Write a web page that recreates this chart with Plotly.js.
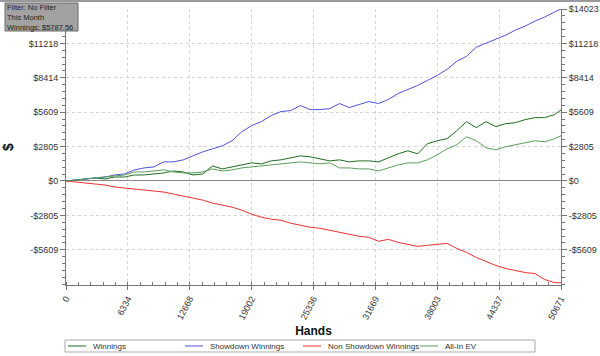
<!DOCTYPE html>
<html>
<head>
<meta charset="utf-8">
<script src="https://cdn.plot.ly/plotly-3.0.1.min.js"></script>
<style>html,body{margin:0;padding:0;background:#fff;}#chart{width:600px;height:356px;}</style>
</head>
<body>
<div id="chart"></div>
<script>
const hands = [0,1000,2000,3000,4000,5000,6000,7000,8000,9000,10000,11000,12000,13000,14000,15000,16000,17000,18000,19000,20000,21000,22000,23000,24000,25000,26000,27000,28000,29000,30000,31000,32000,33000,34000,35000,36000,37000,38000,39000,40000,41000,42000,43000,44000,45000,46000,47000,48000,49000,50000,50671];

const winnings = [0,82,164,246,164,328,328,492,492,574,656,820,738,492,574,1230,984,1148,1312,1476,1394,1640,1722,1886,2050,1968,1804,1640,1722,1558,1640,1640,1558,1886,2214,2460,2214,3034,3280,3444,4100,4838,4346,4838,4428,4674,4756,5002,5166,5166,5412,5787.56];

const showdown = [0,82,164,246,328,492,574,902,1066,1148,1558,1558,1722,2050,2378,2624,2870,3280,4018,4510,4838,5330,5658,5740,6150,5822,5822,5904,6314,5986,6232,6478,6314,6642,7134,7462,7790,8200,8610,9102,9758,10168,10906,11234,11562,11890,12300,12628,13038,13366,13776,14023];

const nonShowdown = [0,-82,-164,-246,-328,-492,-574,-656,-738,-820,-902,-1066,-1230,-1394,-1558,-1804,-1968,-2132,-2378,-2706,-2952,-3116,-3198,-3444,-3608,-3772,-3854,-4018,-4182,-4346,-4510,-4592,-4920,-4756,-5002,-5166,-5330,-5248,-5166,-5084,-5494,-5822,-6232,-6560,-6888,-7134,-7298,-7462,-7544,-8036,-8282,-8300];

const allInEV = [0,82,164,246,328,410,492,738,738,820,902,738,656,656,738,984,820,902,1066,1148,1230,1312,1394,1476,1558,1476,1394,1476,1066,1066,984,984,820,1066,1312,1476,1476,1722,2132,2624,2952,3608,3280,2706,2542,2788,2952,3116,3280,3198,3444,3690];

const xTickVals = [0,6334,12668,19002,25336,31669,38003,44337,50671];
const xTickText = ["0","6334","12668","19002","25336","31669","38003","44337","50671"];
const yTickVals = [-5609,-2805,0,2805,5609,8414,11218,14023];
const yTickText = ["-$5609","-$2805","$0","$2805","$5609","$8414","$11218","$14023"];
const yLeftTickVals = yTickVals.slice(0, 7);
const yLeftTickText = yTickText.slice(0, 7);

const seriesNames = ["Winnings","Showdown Winnings","Non Showdown Winnings","All-In EV"];
const seriesData = [winnings, showdown, nonShowdown, allInEV];
const seriesColors = ["#1f6e1f","#5252e0","#f03030","#5a9e5a"];

const infoLines = ["Filter: No Filter","This Month","Winnings: $5787.56"];

const FONT = 'Liberation Sans, Arial, sans-serif';

const traces = seriesData.map((d,i) => ({
  x: hands, y: d, type: 'scatter', mode: 'lines', name: seriesNames[i],
  line: {color: seriesColors[i], width: 1}, showlegend: false
}));
traces.push({x: [hands[0]], y: [0], yaxis: 'y2', mode: 'lines', showlegend: false, hoverinfo: 'skip', line: {width: 0}});

const yRange = [-8480, 14023];
const tickFont = {family: FONT, size: 9, color: '#333'};

const px = v => (v - 66) / 495;
const py = v => (285 - v) / 276;

const shapes = [
  {type: 'line', xref: 'paper', yref: 'paper', x0: px(0), x1: px(600), y0: py(1), y1: py(1), line: {color: '#999', width: 2}},
  {type: 'rect', xref: 'paper', yref: 'paper', x0: px(5), x1: px(78), y0: py(31), y1: py(3),
   fillcolor: '#a2a2a2', line: {color: '#6a6a6a', width: 1}},
  {type: 'rect', xref: 'paper', yref: 'paper', x0: px(65), x1: px(535), y0: py(352), y1: py(340),
   fillcolor: '#fff', line: {color: '#aaa', width: 1}}
];
const annotations = [];
const legendStarts = [68, 185, 303, 420];
seriesNames.forEach((n, i) => {
  shapes.push({type: 'line', xref: 'paper', yref: 'paper', x0: px(legendStarts[i]), x1: px(legendStarts[i] + 18),
               y0: py(346), y1: py(346), line: {color: seriesColors[i], width: 1}});
  annotations.push({xref: 'paper', yref: 'paper', x: px(legendStarts[i] + 23), y: py(346), xanchor: 'left', yanchor: 'middle',
                    text: n, showarrow: false, font: {family: FONT, size: 8, color: '#333'}});
});
annotations.push({xref: 'paper', yref: 'paper', x: px(6), y: py(17), xanchor: 'left', yanchor: 'middle', align: 'left',
                  text: infoLines.join('<br>'), showarrow: false, borderpad: 0,
                  font: {family: FONT, size: 7.5, color: '#222'}});

const layout = {
  width: 600, height: 356,
  margin: {l: 66, r: 39, t: 9, b: 71, autoexpand: false},
  paper_bgcolor: '#fff', plot_bgcolor: '#fff',
  showlegend: false,
  xaxis: {
    range: [0, 50671], tickmode: 'array', tickvals: xTickVals, ticktext: xTickText,
    tickangle: -62, tickfont: tickFont, automargin: false,
    showgrid: true, gridcolor: '#d4d4d4', griddash: 'dot', gridwidth: 1,
    showline: true, linecolor: '#777', linewidth: 1,
    ticks: 'outside', ticklen: 4, tickcolor: '#777',
    minor: {tickmode: 'linear', tick0: 0, dtick: 1266.775, ticks: 'inside', ticklen: 3, tickcolor: '#777', showgrid: false},
    zeroline: false,
    title: {text: 'Hands', font: {family: FONT, size: 12, color: '#111', weight: 'bold'}, standoff: 6}
  },
  yaxis: {
    range: yRange, tickmode: 'array', tickvals: yLeftTickVals, ticktext: yLeftTickText,
    tickfont: tickFont, automargin: false,
    showgrid: true, gridcolor: '#d4d4d4', griddash: 'dot', gridwidth: 1,
    showline: true, linecolor: '#777', linewidth: 1,
    ticks: 'outside', ticklen: 5, tickcolor: '#777',
    minor: {tickmode: 'linear', tick0: 0, dtick: 560.92, ticks: 'outside', ticklen: 3, tickcolor: '#777', showgrid: false},
    zeroline: true, zerolinecolor: '#888', zerolinewidth: 1,
    title: {text: '$', font: {family: FONT, size: 14, color: '#111', weight: 'bold'}, standoff: 14}
  },
  yaxis2: {
    overlaying: 'y', side: 'right', range: yRange, tickmode: 'array', tickvals: yTickVals, ticktext: yTickText,
    tickfont: tickFont, showgrid: false, zeroline: false, automargin: false,
    showline: true, linecolor: '#777', linewidth: 1,
    ticks: 'outside', ticklen: 5, tickcolor: '#777',
    minor: {tickmode: 'linear', tick0: 0, dtick: 560.92, ticks: 'outside', ticklen: 3, tickcolor: '#777', showgrid: false}
  },
  shapes: shapes,
  annotations: annotations
};

Plotly.newPlot('chart', traces, layout, {displayModeBar: false, staticPlot: true});
</script>
</body>
</html>
